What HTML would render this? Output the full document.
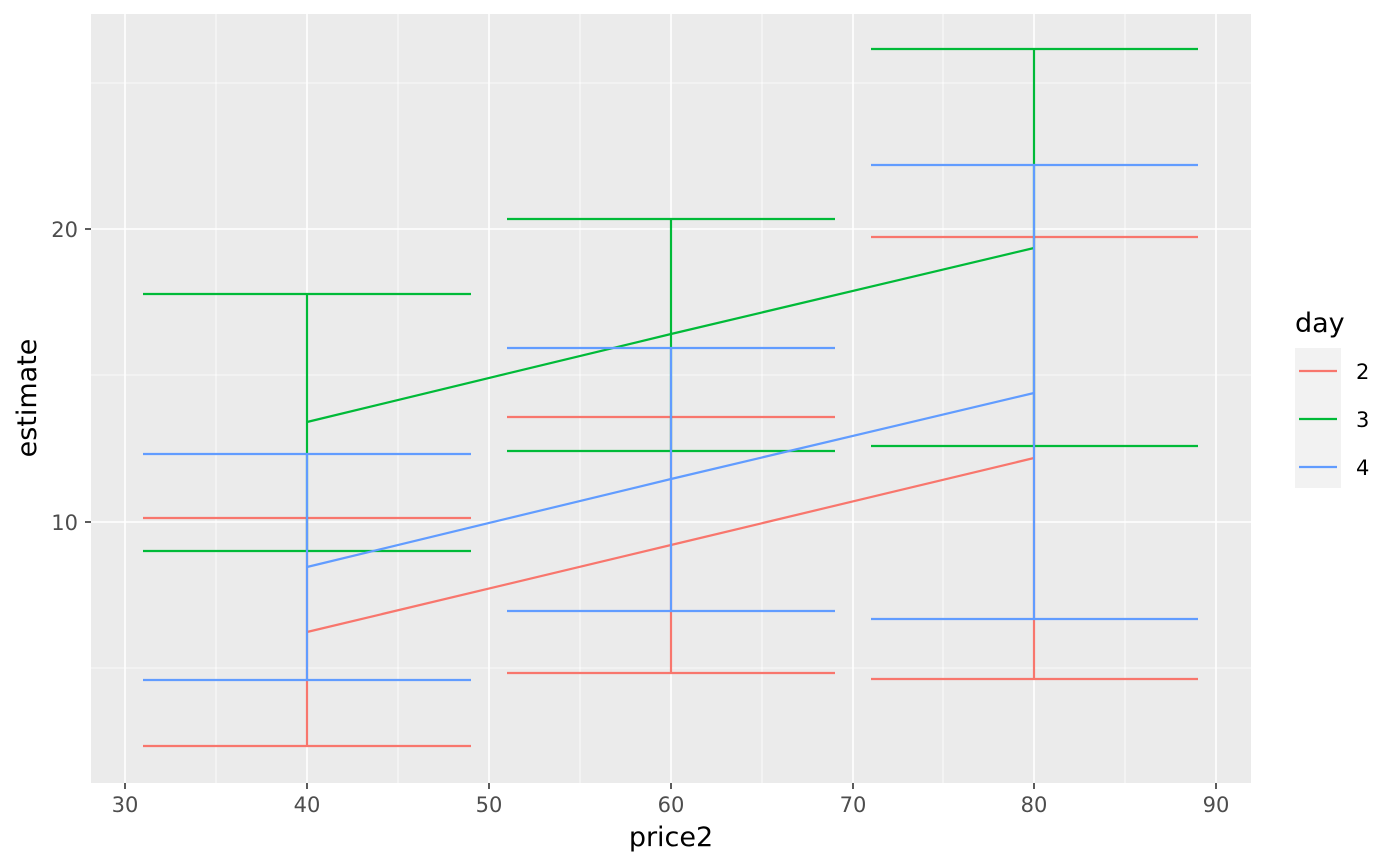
<!DOCTYPE html>
<html><head><meta charset="utf-8"><style>body{margin:0;background:#fff}svg{display:block}</style></head><body>
<svg width="1400" height="866" xmlns="http://www.w3.org/2000/svg" font-family="DejaVu Sans, sans-serif">
<rect x="0" y="0" width="1400" height="866" fill="#fff"/>
<rect x="91" y="14" width="1160" height="769" fill="#EBEBEB"/>
<g stroke="#fff" stroke-width="0.8">
<line x1="91" x2="1251" y1="83" y2="83"/><line x1="91" x2="1251" y1="375" y2="375"/><line x1="91" x2="1251" y1="668" y2="668"/>
<line x1="216" x2="216" y1="14" y2="783"/><line x1="398" x2="398" y1="14" y2="783"/><line x1="580" x2="580" y1="14" y2="783"/><line x1="762" x2="762" y1="14" y2="783"/><line x1="943" x2="943" y1="14" y2="783"/><line x1="1125" x2="1125" y1="14" y2="783"/>
</g>
<g stroke="#fff" stroke-width="1.6">
<line x1="91" x2="1251" y1="229" y2="229"/><line x1="91" x2="1251" y1="522" y2="522"/>
<line x1="125" x2="125" y1="14" y2="783"/><line x1="307" x2="307" y1="14" y2="783"/><line x1="489" x2="489" y1="14" y2="783"/><line x1="671" x2="671" y1="14" y2="783"/><line x1="853" x2="853" y1="14" y2="783"/><line x1="1034" x2="1034" y1="14" y2="783"/><line x1="1216" x2="1216" y1="14" y2="783"/>
</g>
<g fill="none" stroke-width="2.2">
<g stroke="#F8766D">
<path d="M143 518H471M143 746H471M307 518V746"/>
<path d="M507 417H835M507 673H835M671 417V673"/>
<path d="M871 237H1198M871 679H1198M1034 237V679"/>
<path d="M307 632L671 545L1034 458"/>
</g>
<g stroke="#00BA38">
<path d="M143 294H471M143 551H471M307 294V551"/>
<path d="M507 219H835M507 451H835M671 219V451"/>
<path d="M871 49H1198M871 446H1198M1034 49V446"/>
<path d="M307 422L671 334L1034 248"/>
</g>
<g stroke="#619CFF">
<path d="M143 454H471M143 680H471M307 454V680"/>
<path d="M507 348H835M507 611H835M671 348V611"/>
<path d="M871 165H1198M871 619H1198M1034 165V619"/>
<path d="M307 567L671 479L1034 393"/>
</g>
</g>
<g stroke="#333" stroke-width="1.6">
<line x1="85" x2="91" y1="229" y2="229"/><line x1="85" x2="91" y1="522" y2="522"/>
<line x1="125" x2="125" y1="783" y2="789"/><line x1="307" x2="307" y1="783" y2="789"/><line x1="489" x2="489" y1="783" y2="789"/><line x1="671" x2="671" y1="783" y2="789"/><line x1="853" x2="853" y1="783" y2="789"/><line x1="1034" x2="1034" y1="783" y2="789"/><line x1="1216" x2="1216" y1="783" y2="789"/>
</g>
<g fill="#4D4D4D" font-size="21">
<text x="78" y="237" text-anchor="end">20</text><text x="78" y="530" text-anchor="end">10</text>
<g text-anchor="middle"><text x="125" y="812">30</text><text x="307" y="812">40</text><text x="489" y="812">50</text><text x="671" y="812">60</text><text x="853" y="812">70</text><text x="1034" y="812">80</text><text x="1216" y="812">90</text></g>
</g>
<text x="671" y="846" text-anchor="middle" font-size="27">price2</text>
<text x="0" y="0" transform="translate(36 398) rotate(-90)" text-anchor="middle" font-size="27">estimate</text>
<text x="1295" y="332" font-size="27">day</text>
<rect x="1295" y="348" width="46" height="140" fill="#F2F2F2"/>
<g stroke-width="2.2">
<line x1="1299" x2="1337" y1="371" y2="371" stroke="#F8766D"/>
<line x1="1299" x2="1337" y1="419" y2="419" stroke="#00BA38"/>
<line x1="1299" x2="1337" y1="467" y2="467" stroke="#619CFF"/>
</g>
<g font-size="21" fill="#000"><text x="1356" y="379">2</text><text x="1356" y="427">3</text><text x="1356" y="475">4</text></g>
</svg>
</body></html>
